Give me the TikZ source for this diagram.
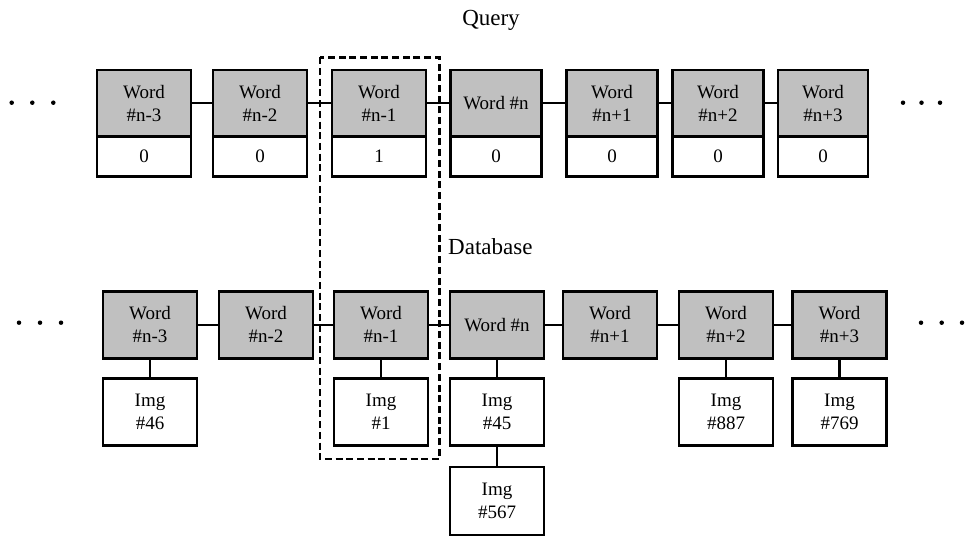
\documentclass[tikz,border=0pt]{standalone}
\usepackage{fontspec}
\setmainfont{Liberation Serif}
\begin{document}
\begin{tikzpicture}[x=1pt,y=-1pt,
  wordbox/.style={draw=black,line width=2.6pt,fill=boxgray,inner sep=0pt,outer sep=0pt,align=center,
    font=\fontsize{19}{22.7}\selectfont},
  valbox/.style={draw=black,line width=2.6pt,fill=white,inner sep=0pt,outer sep=0pt,align=center,
    font=\fontsize{19}{22.7}\selectfont},
  link/.style={draw=black,line width=2.2pt},
  dashbox/.style={draw=black,line width=2.4pt,dash pattern=on 7pt off 3.7pt},
  lbl/.style={font=\fontsize{23}{27}\selectfont,inner sep=0pt,anchor=base},
  dot/.style={fill=black,draw=none,circle,minimum size=4.5pt,inner sep=0pt}]
\definecolor{boxgray}{RGB}{192,192,192}
\useasboundingbox (0,0) rectangle (966,536);

% labels
\node[lbl] (query) at (491,25) {Query};
\node[lbl,anchor=base west] (db) at (448,254) {Database};

% ---------- Query row ----------
\foreach \n/\c/\w/\t/\v in {q1/144/94/{Word\\\#n-3}/0, q2/260/94/{Word\\\#n-2}/0, q3/379/94/{Word\\\#n-1}/1,
    q4/496/91/{Word \#n}/0, q5/612/91/{Word\\\#n+1}/0, q6/718/91/{Word\\\#n+2}/0, q7/823/90/{Word\\\#n+3}/0}{
  \node[wordbox,minimum width=\w pt,minimum height=66.7pt] (\n) at (\c,103.3) {\t};
  \node[valbox,minimum width=\w pt,minimum height=40pt,anchor=north] (\n v) at (\n.south) {\v};
}
\draw[link] (q1) -- (q2);
\draw[link] (q2) -- (q3);
\draw[link] (q3) -- (q4);
\draw[link] (q4) -- (q5);
\draw[link] (q5) -- (q6);
\draw[link] (q6) -- (q7);

% ---------- Database row ----------
\foreach \n/\c/\t in {d1/150/{Word\\\#n-3}, d2/266/{Word\\\#n-2}, d3/381/{Word\\\#n-1},
    d4/497/{Word \#n}, d5/610/{Word\\\#n+1}, d6/726/{Word\\\#n+2}, d7/839.5/{Word\\\#n+3}}{
  \node[wordbox,minimum width=94pt,minimum height=67pt] (\n) at (\c,324.7) {\t};
}
\draw[link] (d1) -- (d2);
\draw[link] (d2) -- (d3);
\draw[link] (d3) -- (d4);
\draw[link] (d4) -- (d5);
\draw[link] (d5) -- (d6);
\draw[link] (d6) -- (d7);

\node[valbox,minimum width=94pt,minimum height=67.5pt] (i46) at (150,412) {Img\\\#46};
\node[valbox,minimum width=94pt,minimum height=67.5pt] (i1) at (381,412) {Img\\\#1};
\node[valbox,minimum width=94pt,minimum height=67.5pt] (i45) at (497,412) {Img\\\#45};
\node[valbox,minimum width=94pt,minimum height=68pt] (i567) at (497,501) {Img\\\#567};
\node[valbox,minimum width=94pt,minimum height=67.5pt] (i887) at (726,412) {Img\\\#887};
\node[valbox,minimum width=94pt,minimum height=67.5pt] (i769) at (839.5,412) {Img\\\#769};
\draw[link] (d1) -- (i46);
\draw[link] (d3) -- (i1);
\draw[link] (d4) -- (i45);
\draw[link] (i45) -- (i567);
\draw[link] (d6) -- (i887);
\draw[link] (d7) -- (i769);

% dashed highlight
\draw[dashbox] (320,57.3) rectangle (439.3,459);

% ellipsis dots
\foreach \x [count=\i] in {11.7,32.3,53.3}{\node[dot] (tl\i) at (\x,102.7) {};}
\foreach \x [count=\i] in {903,921.5,940}{\node[dot] (tr\i) at (\x,102.7) {};}
\foreach \x [count=\i] in {19,40,61}{\node[dot] (bl\i) at (\x,322.7) {};}
\foreach \x [count=\i] in {921,941.7,962}{\node[dot] (br\i) at (\x,322.7) {};}
\end{tikzpicture}
\end{document}
